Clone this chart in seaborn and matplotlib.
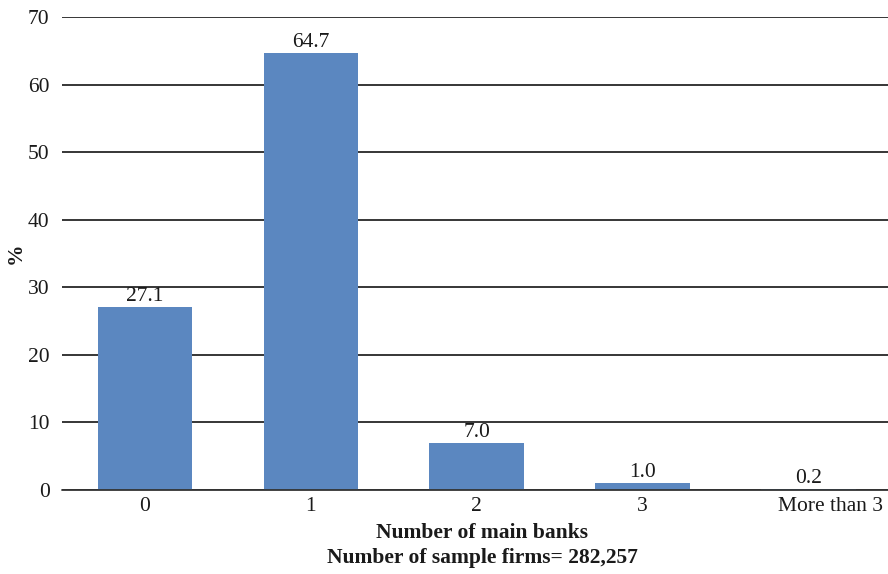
import matplotlib
matplotlib.use("Agg")
import matplotlib.pyplot as plt
import matplotlib.transforms as mtransforms
import seaborn as sns
import pandas as pd

categories = ["0", "1", "2", "3", "More than 3"]
shares = [27.1, 64.7, 7.0, 1.0, 0.2]
yticks = [0, 10, 20, 30, 40, 50, 60, 70]

df = pd.DataFrame({"banks": categories, "share": shares})

sns.set_style("white")
plt.rcParams["font.family"] = ["Liberation Serif", "DejaVu Serif"]

FS = 15.5
TXT = "#1a1a1a"

fig = plt.figure(figsize=(8.88, 5.74), dpi=100)
ax = fig.add_axes([62 / 888, 1 - 490 / 574, (888 - 62) / 888, (490 - 17) / 574])

sns.barplot(data=df, x="banks", y="share", color="#5B87C0", saturation=1,
            width=0.57, linewidth=0, edgecolor="none", ax=ax, zorder=3)

ax.set_ylim(0, 70)
ax.set_xlim(-0.5, 4.48)
ax.set_yticks(yticks)
ax.yaxis.grid(True, color="black", linewidth=1.1, zorder=0)
ax.set_axisbelow(True)
for s in ax.spines.values():
    s.set_visible(False)
ax.axhline(0, color="#333333", linewidth=1.3, zorder=4, clip_on=False)
ax.tick_params(axis="both", length=0, labelsize=FS, colors=TXT)
ax.tick_params(axis="y", pad=9)
ax.tick_params(axis="x", pad=5)

# nudge the long last category label so it sits inside the figure edge
last = ax.get_xticklabels()[-1]
last.set_transform(last.get_transform() +
                   mtransforms.ScaledTranslation(0.22, 0, fig.dpi_scale_trans))

for patch, v in zip(ax.patches, shares):
    ax.text(patch.get_x() + patch.get_width() / 2, v + 0.15, f"{v:.1f}",
            ha="center", va="bottom", fontsize=FS, color=TXT)

ax.set_ylabel("%", fontsize=FS, fontweight="bold", color=TXT)
ax.yaxis.set_label_coords(-0.044, 0.5)
ax.set_xlabel("Number of main banks\nNumber of sample firms= 282,257",
              fontsize=FS, fontweight="bold", linespacing=1.35, color=TXT)
ax.xaxis.set_label_coords((482 - 62) / 826, -0.07)
ax.xaxis.label.set_va("top")

fig.savefig("out.png", dpi=100)
